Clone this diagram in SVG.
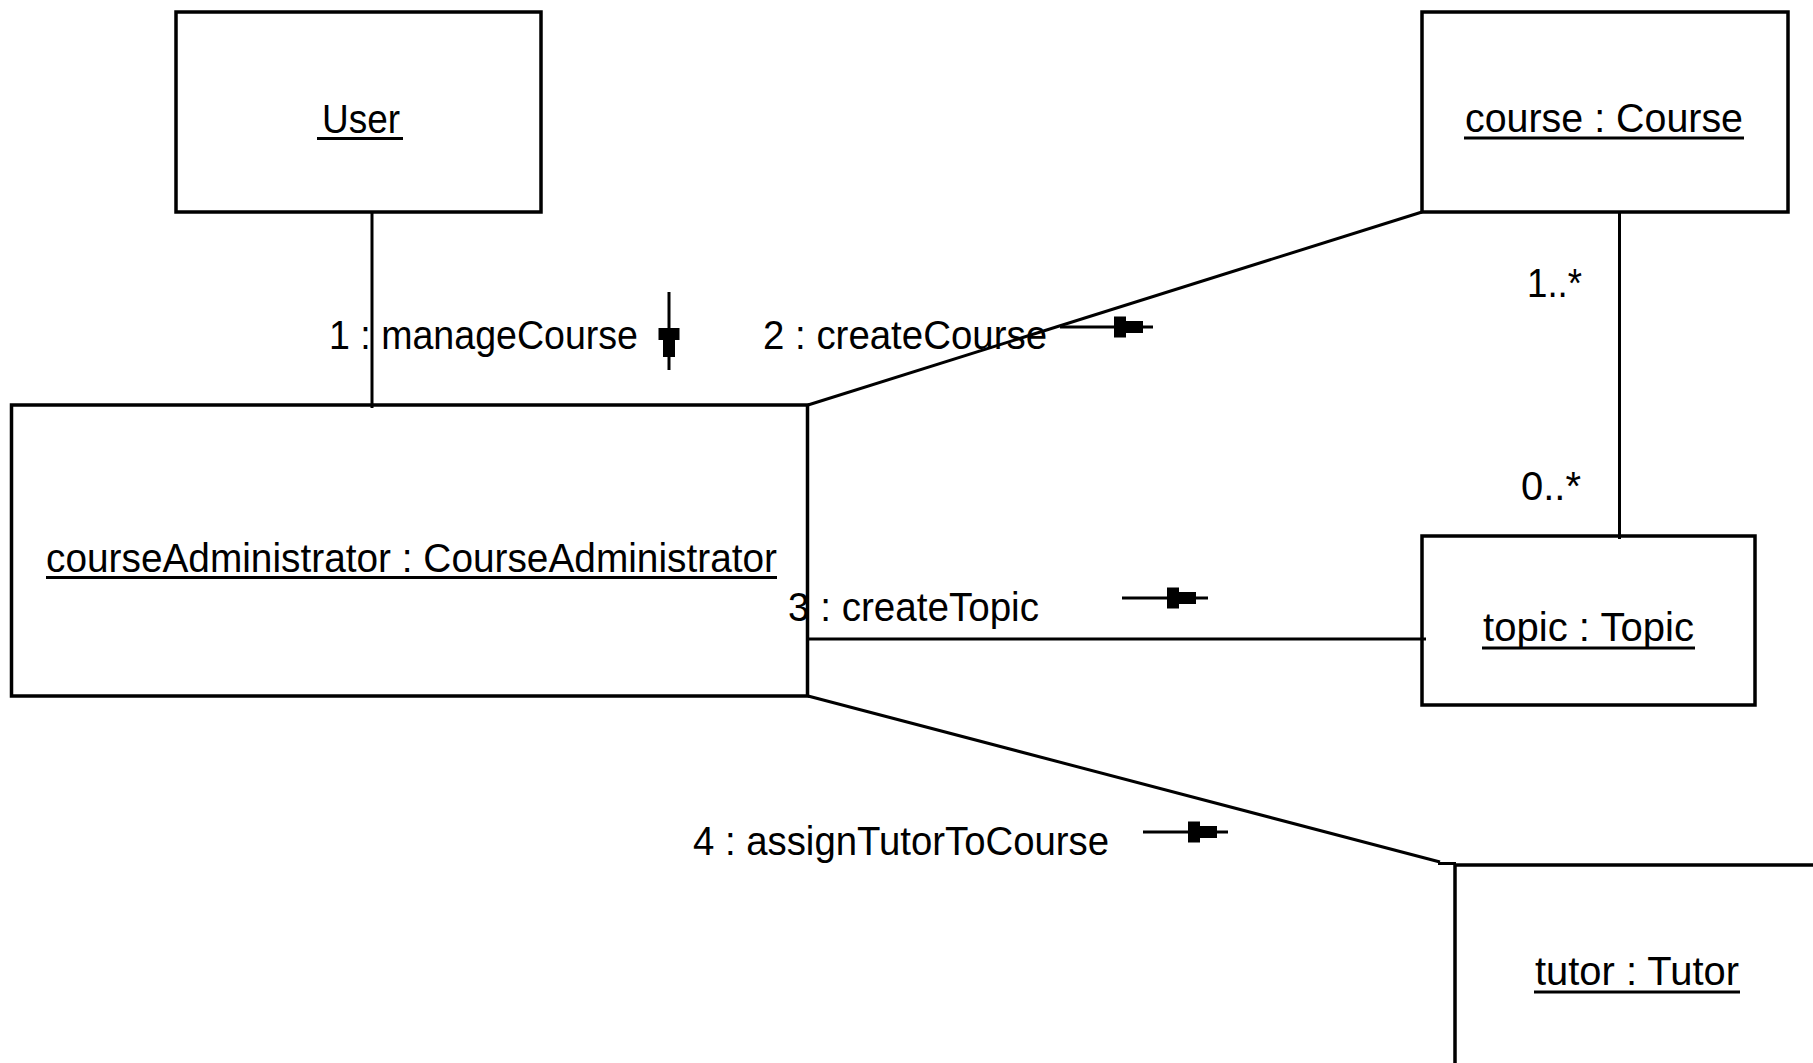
<svg xmlns="http://www.w3.org/2000/svg" xmlns:xlink="http://www.w3.org/1999/xlink" width="1813" height="1063" viewBox="0 0 1813 1063">
<style>
.box{fill:#ffffff;stroke:#000000;stroke-width:3.5}
.edge{fill:none;stroke:#000000;stroke-width:3.5}
.ln{stroke:#000000;stroke-width:3;fill:none}
.ul{stroke:#000000;stroke-width:3}
text{font-family:"Liberation Sans",Arial,sans-serif;font-size:40px;fill:#000000}
.ah{fill:#000000}
</style>
<defs>
<path id="ah" d="M0,-10.5 H12 V-6 H29 V6 H12 V10.5 H0 Z"/>
</defs>
<rect width="1813" height="1063" fill="#ffffff"/>
<g id="user">
<rect class="box" x="176" y="12" width="365" height="200"/>
<text x="322" y="133" textLength="78" lengthAdjust="spacingAndGlyphs">User</text>
<line class="ul" x1="317" y1="138.5" x2="403" y2="138.5"/>
</g>
<g id="course">
<rect class="box" x="1422" y="12" width="366" height="200"/>
<text x="1465" y="132" textLength="278" lengthAdjust="spacingAndGlyphs">course : Course</text>
<line class="ul" x1="1464" y1="138" x2="1744" y2="138"/>
</g>
<g id="courseAdministrator">
<rect class="box" x="11.5" y="405" width="796" height="291"/>
<text x="46" y="572" textLength="731" lengthAdjust="spacingAndGlyphs">courseAdministrator : CourseAdministrator</text>
<line class="ul" x1="46" y1="577.5" x2="777" y2="577.5"/>
</g>
<g id="topic">
<rect class="box" x="1422" y="536" width="333" height="169"/>
<text x="1483" y="641" textLength="211" lengthAdjust="spacingAndGlyphs">topic : Topic</text>
<line class="ul" x1="1482" y1="648" x2="1695" y2="648"/>
</g>
<g id="tutor">
<path class="edge" d="M1455,1063 V865 H1813"/>
<line class="ln" x1="1438" y1="863.5" x2="1456" y2="863.5"/>
<text x="1535" y="985" textLength="204" lengthAdjust="spacingAndGlyphs">tutor : Tutor</text>
<line class="ul" x1="1534" y1="992" x2="1740" y2="992"/>
</g>
<g id="connectors">
<line class="ln" x1="372" y1="212" x2="372" y2="408"/>
<line class="ln" x1="808" y1="405" x2="1422" y2="212"/>
<line class="ln" x1="1619.5" y1="212" x2="1619.5" y2="539"/>
<line class="ln" x1="808" y1="639" x2="1426" y2="639"/>
<line class="ln" x1="808" y1="696" x2="1440" y2="862"/>
<g id="msg1">
<line class="ln" x1="669" y1="292" x2="669" y2="370"/>
<use xlink:href="#ah" class="ah" transform="translate(669,328) rotate(90)"/>
<text x="329" y="349" textLength="309" lengthAdjust="spacingAndGlyphs">1 : manageCourse</text>
</g>
<g id="msg2">
<line class="ln" x1="1060" y1="327" x2="1153" y2="327"/>
<use xlink:href="#ah" class="ah" transform="translate(1114,327)"/>
<text x="763" y="349" textLength="284" lengthAdjust="spacingAndGlyphs">2 : createCourse</text>
</g>
<g id="msg3">
<line class="ln" x1="1122" y1="598" x2="1208" y2="598"/>
<use xlink:href="#ah" class="ah" transform="translate(1167,598)"/>
<text x="788" y="621" textLength="251" lengthAdjust="spacingAndGlyphs">3 : createTopic</text>
</g>
<g id="msg4">
<line class="ln" x1="1143" y1="832" x2="1228" y2="832"/>
<use xlink:href="#ah" class="ah" transform="translate(1188,832)"/>
<text x="693" y="855" textLength="416" lengthAdjust="spacingAndGlyphs">4 : assignTutorToCourse</text>
</g>
<text x="1527" y="297" textLength="55" lengthAdjust="spacingAndGlyphs">1..*</text>
<text x="1521" y="500" textLength="60" lengthAdjust="spacingAndGlyphs">0..*</text>
</g>
</svg>
